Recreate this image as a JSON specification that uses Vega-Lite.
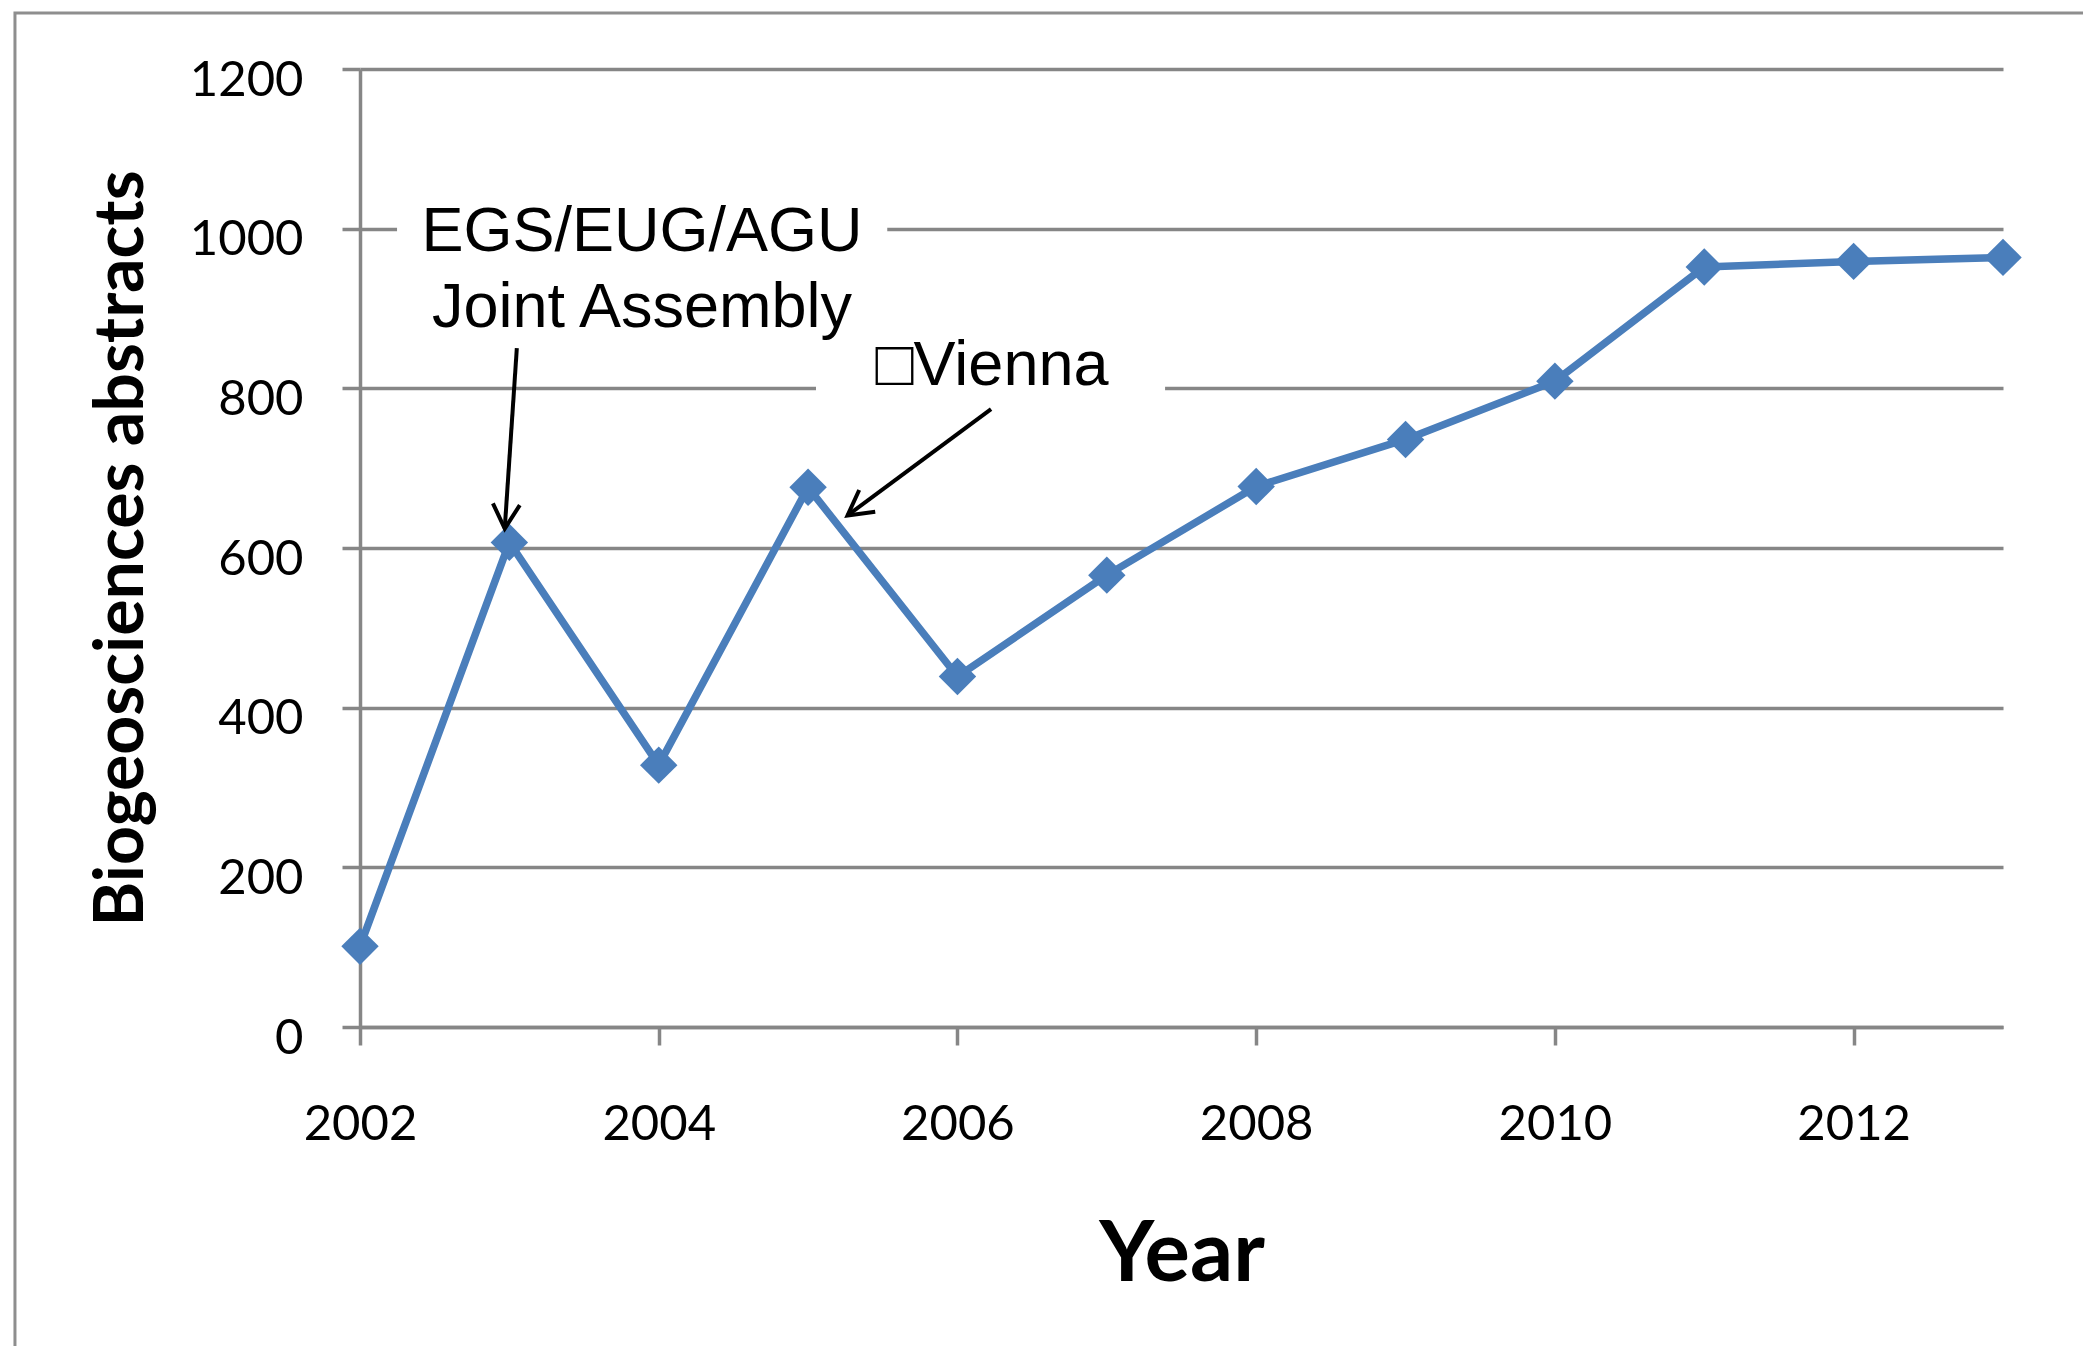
{
  "$schema": "https://vega.github.io/schema/vega-lite/v6.json",
  "width": 1643,
  "height": 958,
  "autosize": "none",
  "padding": {"left": 360, "top": 69, "right": 80, "bottom": 319},
  "background": "white",
  "datasets": {
    "abstracts": [
      {"year": 2002, "count": 101},
      {"year": 2003, "count": 607},
      {"year": 2004, "count": 328},
      {"year": 2005, "count": 676},
      {"year": 2006, "count": 439},
      {"year": 2007, "count": 566},
      {"year": 2008, "count": 677},
      {"year": 2009, "count": 736},
      {"year": 2010, "count": 809},
      {"year": 2011, "count": 952},
      {"year": 2012, "count": 959},
      {"year": 2013, "count": 964}
    ],
    "boxes": [
      {"note": "EGS", "x1": 2002.248, "x2": 2005.53, "y1": 889, "y2": 1086},
      {"note": "Vienna", "x1": 2005.053, "x2": 2007.39, "y1": 760, "y2": 885}
    ],
    "labels": [
      {"note": "EGS", "text": "EGS/EUG/AGU", "x": 2003.888, "y": 972},
      {"note": "EGS", "text": "Joint Assembly", "x": 2003.888, "y": 876.8},
      {"note": "Vienna", "text": "□Vienna", "x": 2006.231, "y": 804.2}
    ],
    "arrows": [
      {"note": "EGS", "x1": 2003.05, "y1": 850.5, "x2": 2002.969, "y2": 624.2},
      {"note": "Vienna", "x1": 2006.225, "y1": 773.9, "x2": 2005.264, "y2": 640.8}
    ]
  },
  "layer": [
    {
      "data": {"values": [{"frame": "border"}]},
      "mark": {"type": "rect", "fill": null, "stroke": "#8e8e8e", "strokeWidth": 3, "clip": false},
      "encoding": {
        "x": {"datum": 1999.69, "type": "quantitative"},
        "x2": {"datum": 2014.2},
        "y": {"datum": 1270.2, "type": "quantitative"},
        "y2": {"datum": -430}
      }
    },
    {
      "data": {"name": "boxes"},
      "mark": {"type": "rect", "fill": "white", "stroke": null, "clip": false},
      "encoding": {
        "x": {"field": "x1", "type": "quantitative"},
        "x2": {"field": "x2"},
        "y": {"field": "y1", "type": "quantitative"},
        "y2": {"field": "y2"}
      }
    },
    {
      "data": {"name": "abstracts"},
      "mark": {"type": "line", "color": "#4A7EBB", "strokeWidth": 7.5, "strokeJoin": "round", "clip": false},
      "encoding": {
        "x": {
          "field": "year",
          "type": "quantitative",
          "scale": {"domain": [2002, 2013], "nice": false, "zero": false},
          "axis": {
            "values": [2002, 2004, 2006, 2008, 2010, 2012],
            "format": "d",
            "title": "Year",
            "grid": false,
            "domainColor": "#868686",
            "domainWidth": 3.5,
            "tickColor": "#868686",
            "tickWidth": 3.5,
            "tickSize": 18,
            "labelFlush": false,
            "labelOverlap": false,
            "labelFont": "Lato",
            "labelFontSize": 49,
            "labelColor": "black",
            "labelPadding": 55,
            "titleFont": "Lato",
            "titleFontSize": 85,
            "titleFontWeight": "bold",
            "titleColor": "black",
            "titlePadding": 64
          }
        },
        "y": {
          "field": "count",
          "type": "quantitative",
          "scale": {"domain": [0, 1200], "nice": false},
          "axis": {
            "values": [0, 200, 400, 600, 800, 1000, 1200],
            "format": "d",
            "title": "Biogeosciences abstracts",
            "grid": true,
            "gridColor": "#868686",
            "gridWidth": 3.5,
            "domainColor": "#868686",
            "domainWidth": 3.5,
            "tickColor": "#868686",
            "tickWidth": 3.5,
            "tickSize": 18,
            "labelFlush": false,
            "labelOverlap": false,
            "labelFont": "Lato",
            "labelFontSize": 49,
            "labelColor": "black",
            "labelPadding": 39,
            "labelOffset": 11,
            "titleFont": "Lato",
            "titleFontSize": 68,
            "titleFontWeight": "bold",
            "titleColor": "black",
            "titlePadding": 33
          }
        }
      }
    },
    {
      "data": {"name": "abstracts"},
      "mark": {"type": "point", "shape": "diamond", "filled": true, "size": 1400, "color": "#4A7EBB", "opacity": 1, "clip": false},
      "encoding": {
        "x": {"field": "year", "type": "quantitative"},
        "y": {"field": "count", "type": "quantitative"}
      }
    },
    {
      "data": {"name": "labels"},
      "mark": {"type": "text", "font": "Liberation Sans", "fontSize": 63, "color": "black", "align": "center", "baseline": "alphabetic", "clip": false},
      "encoding": {
        "x": {"field": "x", "type": "quantitative"},
        "y": {"field": "y", "type": "quantitative"},
        "text": {"field": "text"}
      }
    },
    {
      "data": {"name": "arrows"},
      "mark": {"type": "rule", "color": "black", "strokeWidth": 4, "clip": false},
      "encoding": {
        "x": {"field": "x1", "type": "quantitative"},
        "y": {"field": "y1", "type": "quantitative"},
        "x2": {"field": "x2"},
        "y2": {"field": "y2"}
      }
    },
    {
      "data": {"name": "arrows"},
      "transform": [{"filter": "datum.note === 'EGS'"}],
      "mark": {"type": "point", "shape": "M-0.55,1L0,0L0.55,1", "filled": false, "stroke": "black", "strokeWidth": 4, "size": 2400, "angle": 183.8, "opacity": 1, "clip": false},
      "encoding": {
        "x": {"field": "x2", "type": "quantitative"},
        "y": {"field": "y2", "type": "quantitative"}
      }
    },
    {
      "data": {"name": "arrows"},
      "transform": [{"filter": "datum.note === 'Vienna'"}],
      "mark": {"type": "point", "shape": "M-0.55,1L0,0L0.55,1", "filled": false, "stroke": "black", "strokeWidth": 4, "size": 2400, "angle": 233.5, "opacity": 1, "clip": false},
      "encoding": {
        "x": {"field": "x2", "type": "quantitative"},
        "y": {"field": "y2", "type": "quantitative"}
      }
    }
  ],
  "config": {
    "view": {"stroke": null}
  }
}
